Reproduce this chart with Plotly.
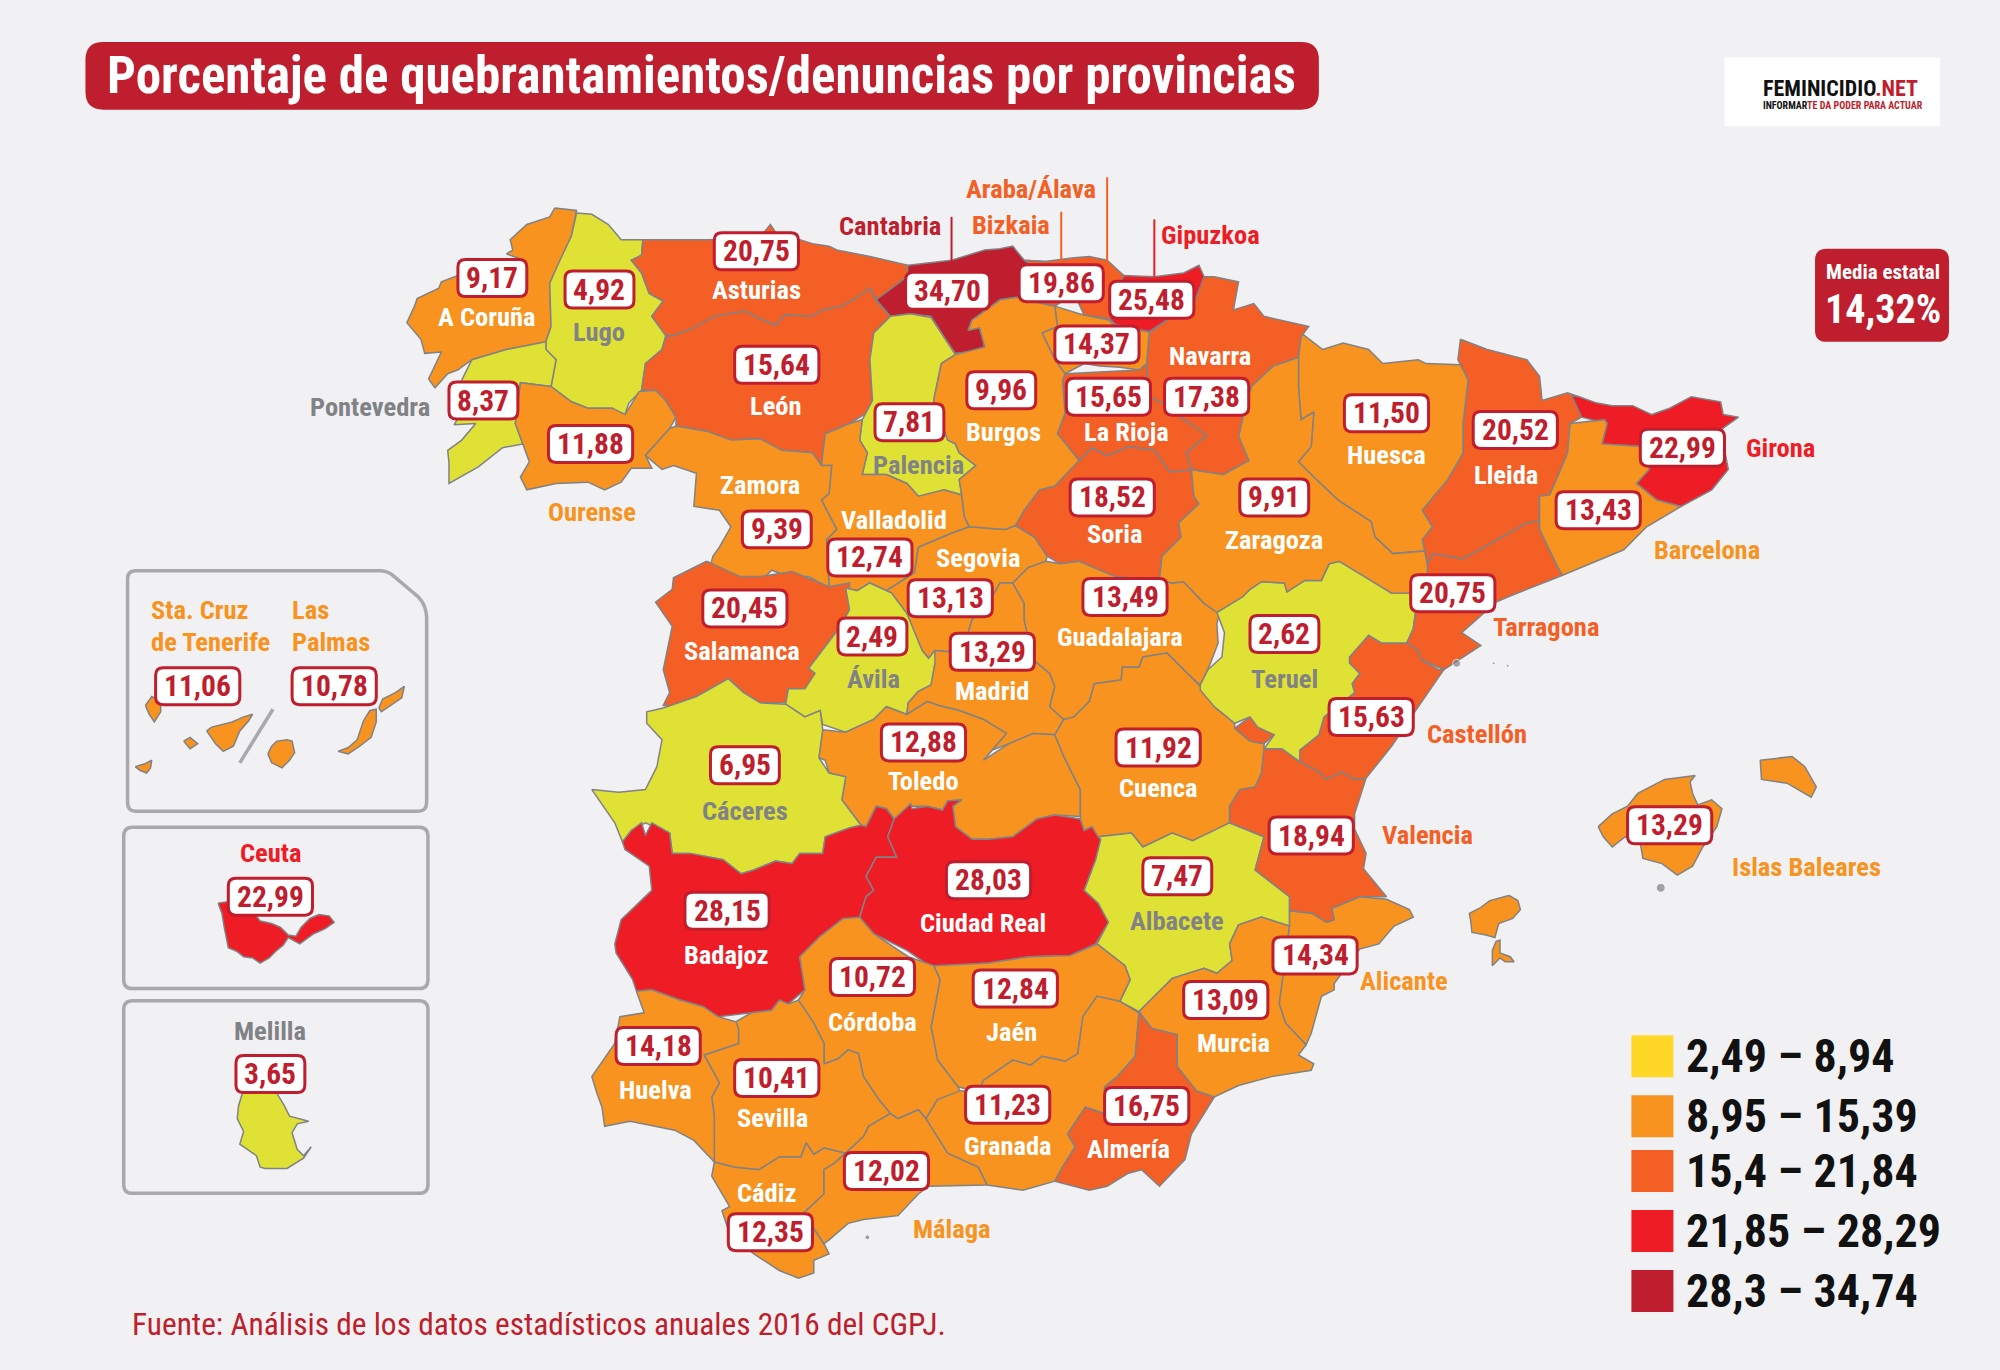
import plotly.graph_objects as go

# datos del mapa
provincias = ["A Coruña", "Lugo", "Pontevedra", "Ourense", "Asturias", "León", "Cantabria", "Palencia",
              "Valladolid", "Zamora", "Salamanca", "Segovia", "Ávila", "Madrid", "Toledo", "Cáceres",
              "Badajoz", "Ciudad Real", "Soria", "Guadalajara", "Cuenca", "Albacete", "Jaén", "Córdoba",
              "Sevilla", "Huelva", "Cádiz", "Málaga", "Granada", "Almería", "Murcia", "Alicante",
              "Valencia", "Castellón", "Teruel", "Tarragona", "Lleida", "Girona", "Barcelona", "Huesca",
              "Zaragoza", "Navarra", "La Rioja", "Araba/Álava", "Bizkaia", "Gipuzkoa", "Burgos",
              "Islas Baleares", "Sta. Cruz de Tenerife", "Las Palmas", "Ceuta", "Melilla"]
valores = [9.17, 4.92, 8.37, 11.88, 20.75, 15.64, 34.70, 7.81,
           12.74, 9.39, 20.45, 13.13, 2.49, 13.29, 12.88, 6.95,
           28.15, 28.03, 18.52, 13.49, 11.92, 7.47, 12.84, 10.72,
           10.41, 14.18, 12.35, 12.02, 11.23, 16.75, 13.09, 14.34,
           18.94, 15.63, 2.62, 20.75, 20.52, 22.99, 13.43, 11.50,
           9.91, 17.38, 15.65, 14.37, 19.86, 25.48, 9.96,
           13.29, 11.06, 10.78, 22.99, 3.65]
media_estatal = "14,32%"

limites = [8.945, 15.395, 21.845, 28.295]
rangos = ["2,49 – 8,94", "8,95 – 15,39", "15,4 – 21,84", "21,85 – 28,29", "28,3 – 34,74"]

AMARILLO = "#DFE235"
NARANJA = "#F7931E"
NARANJA_OSC = "#F45F26"
ROJO = "#EE1C25"
GRANATE = "#BE1E2D"
colores_mapa = [AMARILLO, NARANJA, NARANJA_OSC, ROJO, GRANATE]
colores_leyenda = ["#FFD726", NARANJA, NARANJA_OSC, ROJO, GRANATE]
GRIS = "#808285"
FONDO = "#F1F1F3"
FUENTE = "Roboto"
ESTRECHO = "font-stretch:75%"

# contornos de las provincias, calcados del mapa
contornos = {
    "A Coruña": [[(435, 163), (431, 170), (413, 176), (400, 188), (402, 196), (397, 199), (411, 204), (359, 216), (346, 221), (344, 226), (327, 234), (325, 240), (319, 253), (330, 266), (333, 277), (346, 276), (336, 297), (341, 304), (351, 293), (359, 290), (370, 282), (397, 274), (428, 268), (432, 256), (431, 222), (439, 204), (448, 185), (452, 165)]],
    "Lugo": [[(452, 167), (464, 168), (477, 176), (487, 188), (504, 188), (503, 200), (495, 204), (503, 214), (509, 230), (520, 236), (511, 248), (522, 263), (519, 274), (506, 285), (503, 306), (493, 316), (490, 325), (480, 320), (461, 320), (448, 315), (432, 303), (436, 282), (428, 274), (428, 268), (432, 256), (431, 222), (439, 204), (448, 185)]],
    "Pontevedra": [[(362, 298), (370, 282), (397, 274), (428, 268), (428, 274), (436, 282), (432, 303), (408, 300), (404, 332), (410, 348), (394, 351), (375, 366), (352, 379), (352, 363), (351, 353), (362, 345), (373, 332), (356, 333), (359, 328), (368, 322)]],
    "Ourense": [[(408, 300), (432, 303), (448, 315), (461, 320), (480, 320), (490, 325), (501, 307), (514, 306), (522, 314), (530, 327), (525, 336), (509, 353), (506, 357), (511, 367), (495, 367), (487, 378), (474, 384), (461, 378), (436, 379), (413, 384), (408, 374), (415, 362), (410, 348), (404, 332)]],
    "Asturias": [[(504, 188), (557, 188), (599, 182), (604, 176), (608, 182), (637, 191), (650, 193), (656, 196), (682, 201), (712, 208), (711, 217), (687, 235), (682, 226), (669, 235), (660, 240), (645, 243), (636, 248), (615, 247), (608, 255), (596, 250), (584, 244), (560, 248), (544, 257), (528, 263), (522, 263), (511, 248), (520, 236), (509, 230), (503, 214), (495, 204), (503, 200)]],
    "León": [[(522, 264), (528, 263), (544, 257), (560, 248), (584, 244), (596, 250), (608, 255), (615, 247), (636, 248), (645, 243), (660, 240), (669, 235), (682, 226), (687, 236), (698, 248), (685, 261), (682, 282), (684, 314), (679, 324), (666, 332), (647, 340), (644, 365), (637, 355), (613, 353), (596, 344), (573, 345), (554, 338), (530, 334), (530, 327), (522, 314), (514, 306), (503, 306), (506, 285), (519, 274)]],
    "Cantabria": [[(712, 208), (746, 204), (772, 196), (784, 195), (794, 193), (803, 204), (819, 205), (830, 225), (803, 235), (797, 233), (784, 235), (762, 251), (759, 259), (768, 257), (772, 272), (759, 276), (749, 277), (740, 264), (730, 248), (714, 246), (698, 248), (687, 235), (711, 217)]],
    "Palencia": [[(698, 248), (714, 246), (730, 249), (741, 266), (749, 278), (738, 285), (732, 314), (743, 345), (749, 348), (752, 355), (765, 365), (752, 376), (754, 388), (740, 384), (730, 389), (720, 389), (711, 379), (695, 372), (676, 372), (680, 355), (674, 345), (676, 329), (684, 314), (682, 282), (685, 261)]],
    "Valladolid": [[(647, 340), (666, 332), (676, 329), (674, 345), (680, 355), (676, 372), (695, 372), (711, 379), (720, 389), (740, 384), (754, 388), (756, 405), (760, 413), (746, 418), (720, 429), (717, 449), (695, 463), (682, 457), (672, 463), (664, 462), (650, 461), (648, 423), (656, 415), (644, 392), (650, 387), (652, 365), (644, 365)]],
    "Zamora": [[(530, 334), (554, 338), (573, 345), (596, 344), (613, 353), (637, 355), (644, 365), (652, 365), (650, 387), (644, 392), (656, 415), (648, 423), (650, 461), (634, 452), (618, 452), (605, 447), (596, 456), (580, 452), (557, 443), (559, 436), (564, 429), (573, 413), (564, 400), (544, 397), (546, 371), (528, 365), (519, 368), (506, 357), (525, 336)]],
    "Salamanca": [[(554, 440), (580, 452), (596, 452), (621, 448), (650, 460), (666, 457), (666, 478), (659, 491), (643, 512), (634, 524), (639, 528), (631, 540), (618, 540), (616, 551), (596, 551), (583, 543), (571, 532), (546, 546), (528, 554), (520, 553), (525, 543), (520, 525), (527, 491), (514, 472), (527, 462), (528, 453)]],
    "Segovia": [[(720, 429), (746, 418), (760, 413), (788, 415), (796, 412), (811, 421), (821, 436), (820, 440), (806, 445), (794, 457), (784, 457), (775, 473), (762, 486), (759, 496), (743, 511), (733, 510), (728, 516), (723, 510), (717, 496), (711, 481), (699, 465), (695, 463), (717, 449)]],
    "Ávila": [[(663, 461), (672, 463), (682, 457), (695, 463), (699, 465), (711, 481), (717, 496), (723, 510), (728, 516), (733, 510), (743, 511), (733, 520), (730, 537), (720, 542), (712, 551), (711, 560), (695, 554), (685, 564), (663, 574), (645, 568), (643, 557), (631, 562), (616, 552), (618, 540), (631, 540), (639, 528), (634, 524), (643, 512), (659, 491), (666, 478)]],
    "Madrid": [[(733, 510), (743, 511), (759, 496), (762, 486), (775, 473), (784, 457), (794, 457), (803, 473), (803, 486), (810, 517), (823, 528), (827, 538), (823, 554), (834, 564), (827, 576), (810, 575), (791, 583), (770, 591), (771, 596), (789, 575), (771, 564), (752, 557), (736, 553), (727, 550), (711, 560), (712, 551), (720, 542), (730, 537), (733, 520)]],
    "Toledo": [[(645, 572), (663, 574), (685, 564), (695, 554), (711, 560), (727, 550), (736, 553), (752, 557), (771, 564), (789, 575), (771, 596), (791, 583), (810, 575), (827, 576), (834, 593), (847, 619), (847, 640), (827, 639), (813, 642), (794, 656), (775, 658), (762, 658), (749, 648), (747, 632), (754, 627), (743, 628), (739, 635), (727, 632), (714, 632), (701, 642), (695, 634), (687, 632), (679, 648), (675, 647), (660, 627), (663, 609), (650, 606), (647, 596), (642, 594)]],
    "Cáceres": [[(520, 555), (546, 546), (571, 532), (583, 543), (596, 551), (616, 552), (631, 562), (643, 557), (645, 572), (642, 594), (650, 606), (663, 609), (660, 627), (675, 647), (666, 649), (647, 656), (645, 669), (627, 669), (621, 677), (608, 675), (591, 682), (581, 685), (567, 674), (541, 669), (527, 669), (525, 653), (506, 645), (495, 651), (488, 660), (482, 645), (464, 619), (485, 621), (506, 619), (515, 601), (519, 580), (507, 567), (507, 558)]],
    "Badajoz": [[(488, 660), (495, 651), (503, 645), (506, 655), (511, 645), (525, 653), (527, 669), (541, 669), (567, 674), (581, 685), (591, 682), (608, 675), (621, 677), (627, 669), (645, 669), (647, 656), (666, 649), (675, 647), (679, 648), (687, 632), (695, 634), (701, 642), (696, 656), (703, 672), (687, 672), (679, 687), (685, 698), (679, 703), (674, 719), (659, 723), (643, 734), (627, 750), (631, 776), (618, 787), (611, 784), (605, 792), (589, 794), (563, 797), (551, 789), (533, 784), (511, 776), (499, 777), (496, 768), (483, 747), (482, 740), (487, 721), (511, 698), (509, 679), (490, 666)]],
    "Ciudad Real": [[(701, 642), (714, 630), (715, 634), (727, 632), (739, 635), (743, 628), (754, 627), (747, 632), (749, 648), (762, 658), (775, 658), (794, 656), (813, 642), (827, 639), (847, 642), (850, 651), (856, 648), (863, 658), (859, 674), (850, 698), (861, 708), (869, 723), (859, 740), (839, 749), (807, 750), (775, 755), (730, 758), (711, 745), (685, 732), (674, 719), (679, 703), (685, 698), (679, 687), (687, 672), (703, 672), (696, 656)]],
    "Soria": [[(846, 361), (856, 351), (868, 357), (885, 350), (905, 353), (917, 370), (934, 368), (936, 389), (940, 395), (924, 410), (926, 421), (911, 436), (909, 455), (874, 452), (846, 440), (831, 442), (821, 436), (811, 421), (796, 412), (803, 400), (815, 384), (827, 381)]],
    "Guadalajara": [[(794, 457), (806, 445), (820, 440), (831, 442), (846, 440), (874, 452), (909, 455), (919, 457), (928, 456), (944, 473), (956, 481), (954, 489), (955, 504), (949, 520), (941, 537), (931, 528), (915, 512), (896, 515), (893, 523), (880, 523), (879, 533), (858, 536), (854, 550), (842, 562), (834, 564), (823, 554), (827, 538), (823, 528), (810, 517), (803, 486), (803, 473)]],
    "Cuenca": [[(834, 564), (842, 562), (854, 550), (858, 536), (879, 533), (880, 523), (893, 523), (896, 515), (915, 512), (931, 528), (941, 538), (952, 554), (968, 567), (968, 571), (980, 581), (991, 583), (991, 588), (989, 606), (984, 617), (972, 619), (964, 632), (964, 645), (957, 649), (935, 659), (919, 653), (896, 664), (887, 653), (861, 656), (856, 648), (850, 651), (847, 642), (847, 619), (834, 593), (827, 576)]],
    "Albacete": [[(861, 656), (887, 653), (896, 664), (919, 653), (935, 659), (964, 645), (991, 656), (984, 682), (1011, 703), (1011, 726), (989, 719), (971, 725), (964, 740), (966, 753), (954, 763), (944, 759), (919, 767), (893, 793), (878, 785), (886, 768), (882, 757), (860, 740), (869, 723), (861, 708), (850, 698), (859, 674), (863, 658)]],
    "Jaén": [[(732, 757), (775, 755), (807, 750), (839, 749), (860, 740), (882, 757), (886, 768), (878, 785), (860, 781), (849, 797), (845, 826), (835, 832), (817, 828), (808, 835), (794, 831), (771, 847), (767, 856), (751, 852), (735, 831), (730, 805), (737, 768)]],
    "Córdoba": [[(661, 720), (674, 719), (685, 732), (712, 750), (732, 757), (737, 768), (730, 805), (735, 831), (751, 852), (753, 856), (735, 862), (726, 877), (720, 870), (704, 877), (698, 873), (689, 862), (677, 844), (673, 826), (665, 823), (657, 830), (646, 834), (646, 818), (638, 802), (626, 784), (631, 776), (627, 750), (643, 734)]],
    "Sevilla": [[(577, 801), (589, 794), (605, 792), (611, 784), (618, 787), (626, 784), (638, 802), (646, 818), (646, 834), (657, 830), (665, 823), (673, 826), (677, 844), (689, 862), (698, 873), (681, 883), (677, 891), (663, 904), (646, 900), (638, 905), (632, 896), (628, 907), (611, 907), (595, 917), (576, 915), (560, 911), (560, 875), (558, 860), (564, 849), (556, 834), (552, 827), (579, 818), (579, 807)]],
    "Huelva": [[(499, 777), (511, 776), (533, 784), (551, 789), (563, 797), (577, 801), (579, 807), (579, 818), (552, 827), (556, 834), (564, 849), (558, 860), (560, 875), (560, 911), (544, 894), (529, 886), (494, 879), (474, 883), (472, 868), (468, 857), (464, 844), (482, 818), (486, 797), (505, 794)]],
    "Cádiz": [[(560, 911), (576, 915), (595, 917), (611, 907), (628, 907), (632, 896), (638, 905), (646, 900), (663, 904), (654, 912), (646, 917), (646, 936), (630, 951), (646, 975), (650, 983), (638, 988), (638, 998), (626, 1002), (611, 996), (591, 983), (572, 967), (566, 949), (572, 946), (558, 922)]],
    "Málaga": [[(663, 904), (677, 891), (681, 883), (698, 873), (704, 877), (720, 870), (726, 877), (730, 883), (743, 904), (767, 915), (774, 929), (728, 930), (720, 936), (704, 953), (677, 956), (665, 959), (650, 972), (646, 975), (630, 951), (646, 936), (646, 917), (654, 912)]],
    "Granada": [[(726, 877), (735, 862), (753, 855), (767, 856), (771, 847), (794, 831), (808, 835), (817, 828), (835, 832), (845, 826), (849, 797), (860, 781), (878, 785), (893, 794), (890, 828), (876, 844), (866, 852), (866, 873), (851, 868), (837, 889), (843, 899), (833, 915), (827, 926), (802, 933), (774, 929), (767, 915), (743, 904), (730, 883)]],
    "Almería": [[(893, 794), (903, 806), (923, 811), (923, 836), (938, 855), (952, 860), (934, 889), (929, 909), (909, 930), (895, 917), (884, 920), (868, 930), (854, 933), (827, 926), (833, 915), (843, 899), (837, 889), (851, 868), (866, 873), (866, 852), (876, 844), (890, 828)]],
    "Murcia": [[(893, 793), (919, 767), (944, 759), (954, 763), (966, 753), (964, 740), (971, 725), (989, 719), (1011, 726), (1003, 787), (1008, 802), (1024, 819), (1018, 827), (1030, 834), (1028, 839), (997, 844), (971, 851), (952, 860), (938, 855), (923, 836), (923, 811), (903, 806)]],
    "Alicante": [[(1011, 714), (1029, 716), (1040, 723), (1046, 721), (1044, 712), (1066, 703), (1087, 705), (1105, 713), (1108, 719), (1093, 726), (1081, 740), (1066, 744), (1046, 771), (1046, 776), (1036, 781), (1028, 810), (1024, 819), (1008, 802), (1003, 787), (1011, 726)]],
    "Valencia": [[(991, 587), (1005, 587), (1019, 597), (1034, 605), (1040, 611), (1052, 605), (1062, 611), (1071, 610), (1062, 638), (1062, 650), (1071, 669), (1069, 681), (1087, 703), (1066, 703), (1044, 712), (1046, 721), (1040, 723), (1029, 716), (1011, 714), (1011, 703), (984, 682), (991, 656), (964, 645), (964, 632), (972, 619), (984, 617), (989, 606)],
                 [(968, 571), (980, 562), (986, 570), (999, 576), (991, 583), (980, 581)]],
    "Castellón": [[(1058, 515), (1073, 498), (1083, 504), (1103, 504), (1112, 510), (1114, 517), (1128, 525), (1132, 525), (1112, 554), (1091, 585), (1071, 610), (1062, 611), (1052, 605), (1040, 611), (1034, 605), (1019, 597), (1019, 588), (1034, 576), (1038, 562), (1062, 543), (1060, 536), (1066, 528), (1058, 520)]],
    "Teruel": [[(954, 480), (974, 468), (980, 462), (989, 456), (1007, 457), (1009, 464), (1023, 455), (1036, 455), (1042, 442), (1050, 440), (1073, 452), (1091, 465), (1105, 465), (1110, 478), (1108, 493), (1103, 504), (1083, 504), (1073, 498), (1058, 515), (1058, 520), (1066, 528), (1060, 536), (1062, 543), (1038, 562), (1034, 576), (1019, 588), (1019, 597), (1005, 587), (991, 587), (999, 576), (986, 570), (980, 562), (968, 567), (952, 554), (941, 541), (941, 537), (947, 525), (958, 515), (960, 496)]],
    "Tarragona": [[(1119, 442), (1123, 434), (1147, 438), (1174, 423), (1197, 410), (1207, 408), (1207, 415), (1221, 444), (1225, 451), (1182, 468), (1173, 472), (1146, 496), (1161, 506), (1132, 525), (1114, 517), (1112, 510), (1103, 504), (1108, 493), (1110, 478), (1105, 465), (1119, 460)]],
    "Lleida": [[(1145, 266), (1166, 274), (1197, 282), (1207, 295), (1209, 314), (1229, 308), (1238, 311), (1240, 327), (1231, 332), (1229, 355), (1221, 374), (1215, 388), (1207, 389), (1207, 408), (1197, 410), (1174, 423), (1147, 438), (1123, 434), (1119, 442), (1115, 423), (1123, 413), (1115, 400), (1135, 376), (1147, 355), (1147, 332), (1151, 298), (1143, 282)]],
    "Girona": [[(1232, 310), (1238, 311), (1252, 316), (1264, 318), (1280, 318), (1295, 325), (1309, 320), (1326, 311), (1349, 315), (1351, 325), (1363, 327), (1349, 337), (1355, 368), (1342, 384), (1318, 397), (1299, 392), (1283, 379), (1293, 368), (1287, 350), (1256, 348), (1260, 332), (1240, 327)]],
    "Barcelona": [[(1231, 332), (1258, 329), (1260, 332), (1256, 348), (1287, 350), (1293, 368), (1283, 379), (1299, 392), (1318, 397), (1291, 413), (1273, 431), (1225, 451), (1221, 444), (1207, 415), (1207, 389), (1215, 388), (1221, 374), (1229, 355)]],
    "Huesca": [[(1020, 261), (1037, 274), (1053, 269), (1073, 274), (1084, 285), (1112, 282), (1118, 285), (1145, 286), (1151, 298), (1147, 332), (1147, 355), (1135, 376), (1115, 400), (1123, 413), (1115, 423), (1117, 432), (1092, 434), (1078, 421), (1075, 409), (1049, 392), (1030, 374), (1018, 362), (1028, 350), (1030, 323), (1020, 329), (1018, 303), (1018, 280)]],
    "Zaragoza": [[(1018, 280), (1018, 303), (1020, 329), (1030, 323), (1028, 350), (1018, 362), (1030, 374), (1049, 392), (1075, 409), (1078, 421), (1092, 434), (1117, 432), (1119, 442), (1119, 460), (1105, 465), (1091, 465), (1050, 440), (1042, 442), (1036, 455), (1023, 455), (1009, 464), (1007, 457), (989, 456), (980, 462), (974, 468), (954, 480), (944, 473), (928, 456), (919, 457), (909, 455), (911, 436), (926, 421), (924, 410), (940, 395), (936, 389), (934, 368), (959, 372), (979, 361), (971, 342), (975, 324), (981, 303), (998, 287)]],
    "Navarra": [[(940, 217), (952, 217), (971, 221), (967, 243), (983, 238), (991, 248), (1026, 256), (1020, 264), (1018, 280), (998, 287), (981, 303), (975, 324), (971, 342), (979, 361), (959, 372), (934, 368), (930, 355), (946, 341), (928, 329), (911, 316), (899, 310), (899, 285), (901, 261), (919, 248), (936, 238)]],
    "La Rioja": [[(835, 293), (893, 290), (899, 285), (899, 310), (911, 316), (928, 329), (946, 341), (930, 355), (934, 368), (917, 370), (905, 353), (885, 350), (868, 357), (856, 351), (846, 361), (829, 340), (835, 324), (833, 298)]],
    "Araba/Álava": [[(827, 240), (846, 246), (870, 251), (874, 256), (901, 260), (899, 285), (893, 290), (878, 288), (862, 287), (850, 285), (835, 293), (827, 282), (817, 261), (829, 256)]],
    "Bizkaia": [[(803, 204), (819, 205), (842, 202), (854, 201), (868, 204), (881, 216), (874, 235), (870, 250), (850, 247), (842, 230), (827, 240), (803, 235), (830, 225)]],
    "Gipuzkoa": [[(881, 216), (905, 217), (928, 214), (940, 208), (944, 217), (936, 238), (919, 248), (901, 260), (874, 254), (870, 250), (874, 235)]],
    "Burgos": [[(784, 235), (762, 251), (759, 259), (768, 257), (772, 272), (749, 278), (738, 285), (732, 314), (743, 345), (749, 348), (752, 355), (765, 365), (752, 376), (754, 388), (756, 405), (760, 413), (788, 415), (796, 412), (803, 400), (815, 384), (827, 381), (846, 361), (829, 340), (835, 324), (833, 298), (835, 293), (827, 282), (817, 261), (829, 256), (827, 240), (803, 235), (797, 233)]],
    "Islas Baleares": [[(1253, 648), (1264, 638), (1276, 632), (1284, 622), (1305, 611), (1329, 608), (1325, 613), (1327, 622), (1331, 631), (1342, 627), (1350, 634), (1346, 648), (1335, 664), (1327, 679), (1315, 686), (1303, 677), (1288, 673), (1286, 661), (1274, 656), (1264, 664), (1257, 656)],
                       [(1380, 596), (1405, 593), (1415, 601), (1424, 617), (1420, 625), (1401, 614), (1381, 611)],
                       [(1183, 702), (1190, 706), (1192, 713), (1186, 720), (1175, 724), (1172, 735), (1165, 733), (1154, 731), (1153, 722), (1152, 716), (1160, 712), (1168, 706)],
                       [(1170, 745), (1173, 738), (1176, 737), (1176, 747), (1184, 750), (1187, 754), (1180, 754), (1176, 751), (1170, 757)]],
    "Sta. Cruz de Tenerife": [[(114, 553), (119, 546), (126, 550), (126, 558), (121, 566), (117, 560)],
                              [(144, 581), (149, 578), (155, 583), (149, 587)],
                              [(106, 601), (113, 599), (119, 596), (118, 602), (115, 606), (110, 604)],
                              [(162, 573), (166, 570), (182, 566), (191, 562), (198, 560), (195, 565), (188, 573), (183, 585), (175, 589), (169, 583)]],
    "Las Palmas": [[(210, 591), (213, 585), (217, 581), (225, 580), (229, 581), (231, 590), (227, 596), (221, 602), (213, 598)],
                   [(265, 589), (273, 586), (280, 580), (285, 565), (290, 557), (295, 556), (295, 566), (291, 578), (282, 585), (273, 591)],
                   [(297, 555), (300, 548), (310, 543), (317, 538), (315, 547), (308, 552), (299, 558)]],
    "Ceuta": [[(171, 708), (174, 716), (176, 728), (179, 743), (186, 746), (191, 750), (198, 751), (204, 755), (211, 751), (217, 745), (222, 741), (226, 735), (235, 740), (246, 732), (255, 728), (262, 723), (258, 718), (250, 717), (243, 720), (236, 727), (232, 734), (226, 733), (220, 727), (213, 724), (204, 722), (190, 705)]],
    "Melilla": [[(190, 857), (217, 857), (223, 867), (227, 875), (242, 879), (233, 881), (229, 888), (233, 901), (238, 906), (244, 899), (238, 908), (225, 916), (208, 916), (204, 915), (201, 906), (188, 897), (191, 887), (186, 877), (187, 867)]],
}

# islotes sueltos en gris
islotes_x = [1142, 1171, 1182, 1302, 680]
islotes_y = [520, 520, 522, 696, 970]
islotes_size = [8, 3, 3, 9, 5]

# centro de la caja de cada valor
pos_valor = {
    "A Coruña": (386, 218), "Lugo": (470, 227), "Pontevedra": (379, 314), "Ourense": (463, 348), "Asturias": (593, 197),
    "León": (609, 286), "Cantabria": (743, 228), "Palencia": (713, 331), "Valladolid": (682, 437), "Zamora": (609, 415),
    "Salamanca": (584, 477), "Segovia": (745, 469), "Ávila": (684, 499), "Madrid": (778, 511), "Toledo": (724, 582),
    "Cáceres": (584, 600), "Badajoz": (570, 714), "Ciudad Real": (775, 690), "Soria": (872, 390), "Guadalajara": (882, 468),
    "Cuenca": (908, 586), "Albacete": (923, 687), "Jaén": (796, 775), "Córdoba": (684, 766), "Sevilla": (609, 845),
    "Huelva": (516, 820), "Cádiz": (604, 966), "Málaga": (695, 918), "Granada": (790, 866), "Almería": (899, 867),
    "Murcia": (961, 784), "Alicante": (1031, 749), "Valencia": (1028, 655), "Castellón": (1075, 562), "Teruel": (1007, 497),
    "Tarragona": (1139, 465), "Lleida": (1188, 337), "Girona": (1319, 351), "Barcelona": (1253, 400), "Huesca": (1087, 324),
    "Zaragoza": (999, 390), "Navarra": (946, 311), "La Rioja": (869, 311), "Araba/Álava": (860, 270), "Bizkaia": (832, 222),
    "Gipuzkoa": (903, 235), "Burgos": (785, 306), "Islas Baleares": (1309, 647), "Sta. Cruz de Tenerife": (155, 538),
    "Las Palmas": (262, 538), "Ceuta": (212, 703), "Melilla": (212, 842),
}

# nombres: texto, x, y, color
BL = "white"
GR = "#808285"
nombres = [
    ("A Coruña", 382, 248, BL), ("Lugo", 470, 260, GR), ("Pontevedra", 292, 319, GR), ("Ourense", 464, 401, NARANJA),
    ("Asturias", 593, 227, BL), ("León", 608, 318, BL), ("Cantabria", 698, 177, GRANATE), ("Palencia", 720, 364, GR),
    ("Valladolid", 701, 407, BL), ("Zamora", 596, 380, BL), ("Salamanca", 582, 510, BL), ("Segovia", 767, 437, BL),
    ("Ávila", 685, 532, GR), ("Madrid", 778, 541, BL), ("Toledo", 724, 612, BL), ("Cáceres", 584, 635, GR),
    ("Badajoz", 569, 748, BL), ("Ciudad Real", 771, 723, BL), ("Soria", 874, 418, BL), ("Guadalajara", 878, 499, BL),
    ("Cuenca", 908, 617, BL), ("Albacete", 923, 722, GR), ("Jaén", 793, 809, BL), ("Córdoba", 684, 801, BL),
    ("Sevilla", 606, 876, BL), ("Huelva", 514, 854, BL), ("Cádiz", 601, 935, BL), ("Málaga", 746, 963, NARANJA),
    ("Granada", 790, 898, BL), ("Almería", 885, 900, BL), ("Murcia", 967, 817, BL), ("Alicante", 1101, 769, NARANJA),
    ("Valencia", 1119, 654, NARANJA_OSC), ("Castellón", 1158, 575, NARANJA_OSC), ("Teruel", 1007, 532, GR),
    ("Tarragona", 1212, 491, NARANJA_OSC), ("Lleida", 1181, 372, BL), ("Girona", 1396, 351, ROJO),
    ("Barcelona", 1338, 431, NARANJA), ("Huesca", 1087, 356, BL), ("Zaragoza", 999, 423, BL), ("Navarra", 949, 279, BL),
    ("La Rioja", 883, 338, BL), ("Araba/Álava", 808, 148, NARANJA_OSC), ("Bizkaia", 793, 176, NARANJA_OSC),
    ("Gipuzkoa", 949, 184, ROJO), ("Burgos", 787, 338, BL), ("Islas Baleares", 1416, 679, NARANJA),
    ("Ceuta", 212, 668, ROJO), ("Melilla", 212, 808, GR),
]

# lineas guia: x, y inicio, y fin, color
guias = [(746, 170, 205, GRANATE), (832, 166, 205, NARANJA_OSC), (868, 139, 250, NARANJA_OSC), (905, 172, 217, ROJO)]

leyenda_y = [828, 875, 918, 965, 1012]


def clase(v):
    for i, lim in enumerate(limites):
        if v < lim:
            return i
    return len(limites)


def coma(v):
    return f"{v:.2f}".replace(".", ",")


def caja(x0, y0, x1, y1, r):
    return (f"M {x0 + r} {y0} L {x1 - r} {y0} Q {x1} {y0} {x1} {y0 + r} L {x1} {y1 - r} Q {x1} {y1} {x1 - r} {y1} "
            f"L {x0 + r} {y1} Q {x0} {y1} {x0} {y1 - r} L {x0} {y0 + r} Q {x0} {y0} {x0 + r} {y0} Z")


def rellena(fig, anillos, color, nombre="", linea=GRIS, ancho=1.5):
    xs, ys = [], []
    for anillo in anillos:
        xs += [p[0] for p in anillo] + [anillo[0][0], None]
        ys += [p[1] for p in anillo] + [anillo[0][1], None]
    fig.add_trace(go.Scatter(x=xs, y=ys, mode="lines", fill="toself", fillcolor=color, name=nombre,
                             line=dict(color=linea, width=ancho), hoverinfo="name" if nombre else "skip",
                             showlegend=False))


def texto(fig, t, x, y, size, color, anchor="center", bold=True):
    t = f"<span style='{ESTRECHO}'>{t}</span>"
    fig.add_annotation(x=x, y=y, text=f"<b>{t}</b>" if bold else t, showarrow=False, xanchor=anchor, yanchor="middle",
                       font=dict(family=FUENTE, size=size, color=color))


fig = go.Figure()

for nombre, v in zip(provincias, valores):
    rellena(fig, contornos[nombre], colores_mapa[clase(v)], f"{nombre}: {coma(v)}")

fig.add_trace(go.Scatter(x=islotes_x, y=islotes_y, mode="markers", marker=dict(color=GRIS, size=islotes_size),
                         hoverinfo="skip", showlegend=False))

# recuadros de canarias, ceuta y melilla
recuadro = dict(color="#A7A9AC", width=3.5)
fig.add_shape(type="path", line=recuadro,
              path="M 106 447.5 L 298 447.5 Q 303 447.5 308 451 L 328 468 Q 334 474 334.5 484 L 334.5 629 Q 334.5 636 328 636 "
                   "L 106 636 Q 100 636 100 629 L 100 454 Q 100 447.5 106 447.5 Z")
fig.add_shape(type="path", path=caja(97, 648.5, 335.5, 775, 7), line=recuadro)
fig.add_shape(type="path", path=caja(97, 784.5, 335.5, 935.5, 7), line=recuadro)
fig.add_shape(type="line", x0=188, y0=598, x1=214, y1=556, line=dict(color="#A7A9AC", width=3.5))

# lineas guia
for gx, y0, y1, col in guias:
    fig.add_shape(type="line", x0=gx, x1=gx, y0=y0, y1=y1, line=dict(color=col, width=2))

# cajas con los valores
for nombre, v in zip(provincias, valores):
    cx, cy = pos_valor[nombre]
    etiqueta = coma(v)
    w = 33 if len(etiqueta) == 5 else 27
    fig.add_shape(type="path", path=caja(cx - w, cy - 14.5, cx + w, cy + 14.5, 6), fillcolor="white",
                  line=dict(color=GRANATE, width=3))
    texto(fig, etiqueta, cx, cy, 29.5, GRANATE)

for t, x, y, col in nombres:
    anchor = "right" if t == "Pontevedra" else "center"
    texto(fig, t, x + (47 if t == "Pontevedra" else 0), y, 26.5, col, anchor)

# canarias: nombres en dos lineas
texto(fig, "Sta. Cruz", 117, 478, 26.5, NARANJA, "left")
texto(fig, "de Tenerife", 117, 503, 26.5, NARANJA, "left")
texto(fig, "Las", 227, 478, 26.5, NARANJA, "left")
texto(fig, "Palmas", 227, 503, 26.5, NARANJA, "left")

# titulo
fig.add_shape(type="path", path=caja(67, 33, 1034, 86, 14), fillcolor=GRANATE, line=dict(width=0))
texto(fig, "Porcentaje de quebrantamientos/denuncias por provincias", 82, 59, 51, "white", "left")

# logo
fig.add_shape(type="rect", x0=1352, y0=45, x1=1521, y1=99, fillcolor="white", line=dict(width=0))
rellena(fig, [[(1363, 54), (1369, 50), (1376, 53), (1377, 67), (1369, 67), (1363, 65)],
              [(1355, 87), (1364, 82), (1364, 74), (1367, 80), (1374, 80), (1371, 94), (1367, 86)]], "black", linea="black", ancho=1)
fig.add_annotation(x=1381, y=69, text=f"<b><span style='{ESTRECHO}'>FEMINICIDIO</span><span style='{ESTRECHO};color:#BE1E2D'>.NET</span></b>",
                   showarrow=False, xanchor="left", yanchor="middle", font=dict(family=FUENTE, size=22, color="#111111"))
fig.add_annotation(x=1381, y=83, text=f"<b><span style='{ESTRECHO}'>INFORMAR</span><span style='{ESTRECHO};color:#BE1E2D'>TE DA PODER PARA ACTUAR</span></b>",
                   showarrow=False, xanchor="left", yanchor="middle", font=dict(family=FUENTE, size=10, color="#111111"))

# media estatal
fig.add_shape(type="path", path=caja(1423, 195, 1528, 268, 9), fillcolor=GRANATE, line=dict(width=0))
texto(fig, "Media estatal", 1476, 213, 21, "white")
texto(fig, media_estatal, 1476, 243, 40, "white")

# leyenda
fig.add_trace(go.Scatter(x=[1295.5] * len(leyenda_y), y=leyenda_y, mode="markers", hoverinfo="skip", showlegend=False,
                         marker=dict(symbol="square", size=42, color=colores_leyenda, line=dict(width=0))))
for r, ly in zip(rangos, leyenda_y):
    texto(fig, r, 1320, ly, 46, "#111111", "left")

# fuente
texto(fig, "Fuente: Análisis de los datos estadísticos anuales 2016 del CGPJ.", 102, 1038, 31.4, GRANATE, "left", bold=False)

fig.update_layout(
    width=2000, height=1370,
    margin=dict(l=0, r=0, t=0, b=0),
    paper_bgcolor=FONDO, plot_bgcolor=FONDO,
    showlegend=False,
    xaxis=dict(range=[0, 1568], visible=False, fixedrange=True),
    yaxis=dict(range=[1074, 0], visible=False, fixedrange=True),
)

fig.write_html("out.html", config={"displayModeBar": False},
               post_script="document.body.style.margin='0';document.documentElement.style.overflow='hidden';")
